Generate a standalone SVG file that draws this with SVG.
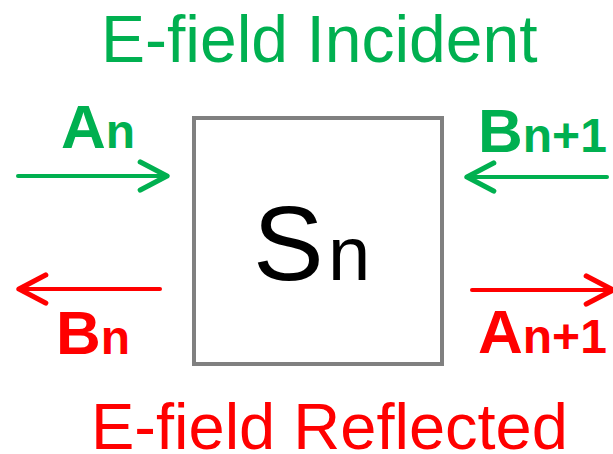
<svg xmlns="http://www.w3.org/2000/svg" width="613" height="454" viewBox="0 0 613 454">
<style>
.t{font-family:"Liberation Sans",Arial,sans-serif}
.g{fill:#00b050}
.r{fill:#ff0000}
.b{font-weight:bold}
.big{font-size:62px}
.sub{font-size:48px}
.lg{stroke:#00b050;stroke-width:4;fill:none;stroke-linecap:round}
.lr{stroke:#ff0000;stroke-width:4;fill:none;stroke-linecap:round}
</style>
<defs>
<marker id="ag" markerUnits="userSpaceOnUse" markerWidth="40" markerHeight="40" refX="0" refY="0" orient="auto" viewBox="-25 -15 30 30" overflow="visible">
<path d="M-20,-10.5 L0,0 L-20,10.5" fill="none" stroke="#00b050" stroke-width="4" stroke-linecap="round" stroke-linejoin="round"/>
</marker>
<marker id="ar" markerUnits="userSpaceOnUse" markerWidth="40" markerHeight="40" refX="0" refY="0" orient="auto" viewBox="-25 -15 30 30" overflow="visible">
<path d="M-20,-10.5 L0,0 L-20,10.5" fill="none" stroke="#ff0000" stroke-width="4" stroke-linecap="round" stroke-linejoin="round"/>
</marker>
</defs>
<rect width="613" height="454" fill="#ffffff"/>
<g id="title-incident"><text class="t g" x="101" y="62" font-size="66">E-field Incident</text></g>
<g id="title-reflected"><text class="t r" x="91" y="449" font-size="65">E-field Reflected</text></g>
<g id="node-Sn">
<rect x="194" y="118" width="248" height="246" fill="#ffffff" stroke="#808080" stroke-width="4"/>
<text class="t" x="253" y="280" fill="#000000"><tspan font-size="106">S</tspan><tspan font-size="76" x="328">n</tspan></text>
</g>
<g id="label-An"><text class="t g b" x="61" y="148"><tspan class="big">A</tspan><tspan class="sub">n</tspan></text></g>
<g id="label-Bn1"><text class="t g b" x="478" y="152"><tspan class="big">B</tspan><tspan class="sub">n+1</tspan></text></g>
<g id="label-Bn"><text class="t r b" x="56" y="354"><tspan class="big">B</tspan><tspan class="sub">n</tspan></text></g>
<g id="label-An1"><text class="t r b" x="478" y="353"><tspan class="big">A</tspan><tspan class="sub">n+1</tspan></text></g>
<g id="connectors">
<line class="lg" x1="18" y1="176" x2="167" y2="176" marker-end="url(#ag)"/>
<line class="lg" x1="607" y1="177" x2="467" y2="177" marker-end="url(#ag)"/>
<line class="lr" x1="160" y1="289" x2="19" y2="289" marker-end="url(#ar)"/>
<line class="lr" x1="472" y1="290" x2="613" y2="290" marker-end="url(#ar)"/>
</g>
</svg>
